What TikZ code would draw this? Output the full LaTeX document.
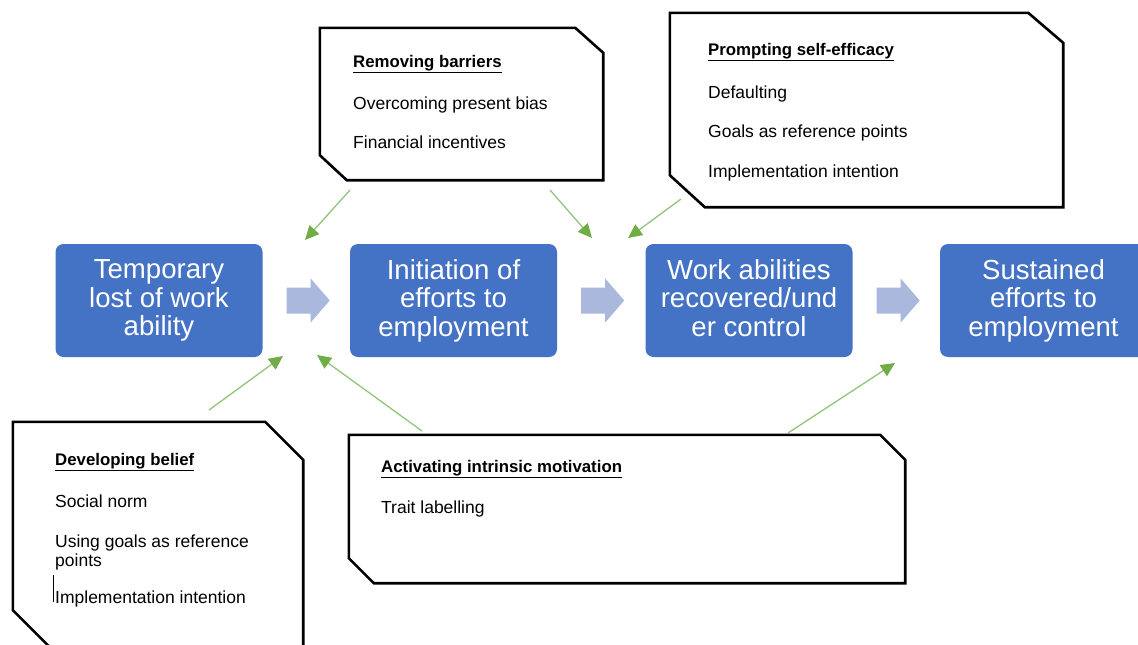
\documentclass[tikz,border=0pt]{standalone}
\usepackage{fontspec}
\setmainfont{Liberation Sans}
\usetikzlibrary{arrows.meta,calc}
\definecolor{boxblue}{HTML}{4472C4}
\definecolor{flowgray}{HTML}{A9B8DC}
\definecolor{leafgreen}{HTML}{70AD47}
\definecolor{stemgreen}{HTML}{93C47D}
% bold heading with a rule under it
\newcommand\lineunder[1]{\vtop{\hbox{#1}\kern1.8pt\hrule height 1.1pt}}
% frame with two cut corners: node, top-right cut (dx,dy), bottom-left cut (dx,dy)
\newcommand\cutframe[5]{%
  \draw[outline] (#1.north west) -- ($(#1.north east)+(-#2,0)$) -- ($(#1.north east)+(0,#3)$)
    -- (#1.south east) -- ($(#1.south west)+(#4,0)$) -- ($(#1.south west)+(0,-#5)$) -- cycle;}
\begin{document}
\begin{tikzpicture}[x=1pt,y=-1pt,
  stage/.style={rectangle, rounded corners=8pt, fill=boxblue, text=white,
    minimum width=207pt, minimum height=113pt, align=center, inner sep=0pt,
    font=\fontsize{27.6}{28.5}\selectfont},
  area/.style={rectangle, inner sep=0pt},
  outline/.style={draw=black, line width=2.6pt, line join=miter},
  head/.style={anchor=base west, inner sep=0pt, font=\fontsize{16.8}{20}\selectfont\bfseries},
  item/.style={anchor=base west, inner sep=0pt, font=\fontsize{17.5}{20}\selectfont},
  nudge/.style={draw=stemgreen, line width=1.3pt,
    -{Triangle[length=14pt,width=13pt,fill=leafgreen,color=leafgreen]}},
  pics/flowarrow/.style={code={
    \fill[flowgray] (0,-13) -- (24,-13) -- (24,-22) -- (43,0) -- (24,22) -- (24,13) -- (0,13) -- cycle;}}
]
\useasboundingbox (0,0) rectangle (1138,645);
\clip (0,0) rectangle (1138,645);
\fill[white] (0,0) rectangle (1138,645);

% stages of the process
\node[stage] (s1) at (159,300.5) {Temporary\\lost of work\\ability};
\node[stage] (s2) at (453.5,300.5) {Initiation of\\efforts to\\employment};
\node[stage] (s3) at (749,300.5) {Work abilities\\recovered/und\\er control\vphantom{p}};
\node[stage] (s4) at (1043.5,300.5) {Sustained\\efforts to\\employment};

\pic at ($(s1.east)+(24,0)$) {flowarrow};
\pic at ($(s2.east)+(24,0)$) {flowarrow};
\pic at ($(s3.east)+(24,0)$) {flowarrow};

% intervention frames
\node[area, minimum width=283pt, minimum height=152pt] (rb) at (461.5,104) {};
\cutframe{rb}{28}{25}{27}{25}
\node[head] (rbh) at (353,67) {\lineunder{Removing barriers}};
\node[item] (rb1) at (353,109) {Overcoming present bias};
\node[item] (rb2) at (353,148) {Financial incentives};

\node[area, minimum width=393pt, minimum height=194pt] (ps) at (866.5,110) {};
\cutframe{ps}{35}{30}{35}{32}
\node[head] (psh) at (708,55) {\lineunder{Prompting self-efficacy}};
\node[item] (ps1) at (708,98) {Defaulting};
\node[item] (ps2) at (708,137) {Goals as reference points};
\node[item] (ps3) at (708,177) {Implementation intention};

\node[area, minimum width=290pt, minimum height=233pt] (db) at (158,538.5) {};
\cutframe{db}{38}{38}{45}{45}
\node[head] (dbh) at (55,465) {\lineunder{Developing belief}};
\node[item] (db1) at (55,507) {Social norm};
\node[item] (db2) at (55,547) {Using goals as reference};
\node[item] (db3) at (55,566) {points};
\node[item] (db4) at (55,603) {Implementation intention};
\draw[line width=1pt] (53.5,575) -- (53.5,602);

\node[area, minimum width=556pt, minimum height=148pt] (am) at (627,509) {};
\cutframe{am}{25}{25}{25}{25}
\node[head] (amh) at (381,472) {\lineunder{Activating intrinsic motivation}};
\node[item] (am1) at (381,513) {Trait labelling};

% influence arrows
\coordinate (rbA) at (350,190);
\coordinate (rbB) at (550,190);
\coordinate (psA) at (681,199);
\coordinate (dbA) at (209,410);
\coordinate (amA) at (422,431);
\coordinate (amB) at (788,433);
\coordinate (gap12top) at (305,240);
\coordinate (gap23top) at (592,238);
\coordinate (gap23topb) at (628,238);
\coordinate (gap12low) at (283,356);
\coordinate (gap12lowb) at (317,355);
\coordinate (gap34low) at (895,363);

\draw[nudge] (rbA) -- (gap12top);
\draw[nudge] (rbB) -- (gap23top);
\draw[nudge] (psA) -- (gap23topb);
\draw[nudge] (dbA) -- (gap12low);
\draw[nudge] (amA) -- (gap12lowb);
\draw[nudge] (amB) -- (gap34low);
\end{tikzpicture}
\end{document}
